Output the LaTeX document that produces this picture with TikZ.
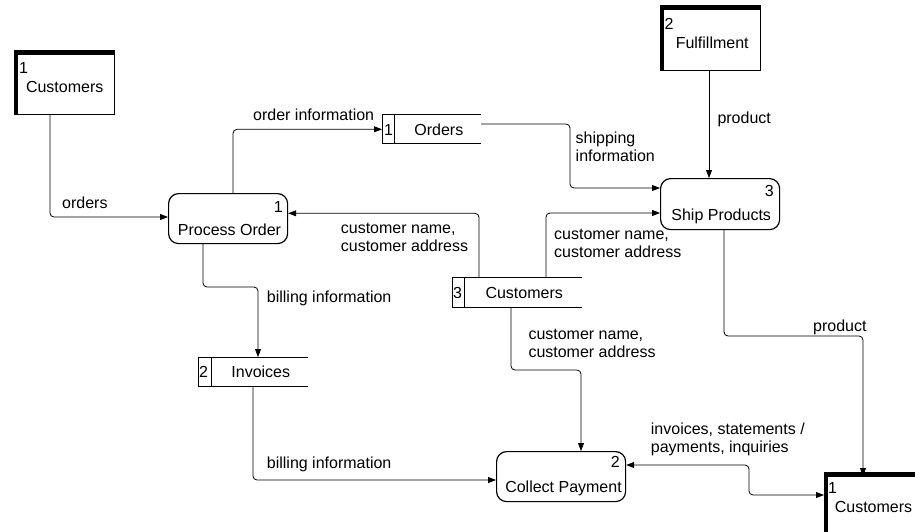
\documentclass[tikz,border=0pt]{standalone}
\usepackage{fontspec}
\setmainfont{Liberation Sans}
\usetikzlibrary{arrows.meta}
\begin{document}
\begin{tikzpicture}[x=1pt,y=-1pt,
  every node/.style={font=\fontsize{16}{18}\selectfont, inner sep=0pt},
  entity/.style={draw, line width=1pt, rectangle, anchor=north west},
  proc/.style={draw, line width=1.2pt, rounded corners=10pt, anchor=north west},
  store/.style={line width=1pt},
  flow/.style={line width=0.8pt, rounded corners=4pt, -{Triangle[length=8pt,width=6pt]}},
  lbl/.style={anchor=base west, align=left},
  num/.style={anchor=base west}
]
\useasboundingbox (0,0) rectangle (915,531);

% ---------- external entities ----------
\node[entity, minimum width=100pt, minimum height=60pt] (c1) at (14,54) {};
\fill (c1.north west) rectangle ([xshift=4pt]c1.south west);
\fill (c1.north west) rectangle ([yshift=4pt]c1.north east);
\node[num] (c1n) at (19,73.3) {1};
\node[anchor=base] (c1t) at (64.7,92.3) {Customers};

\node[entity, minimum width=100pt, minimum height=61pt] (ff) at (660,9) {};
\fill (ff.north west) rectangle ([xshift=4pt]ff.south west);
\fill (ff.north west) rectangle ([yshift=4pt]ff.north east);
\node[num] (ffn) at (664.5,29.3) {2};
\node[anchor=base] (fft) at (712.2,48.3) {Fulfillment};

\node[entity, minimum width=110pt, minimum height=70pt] (c2) at (824,476) {};
\fill (c2.north west) rectangle ([xshift=4pt]c2.south west);
\fill (c2.north west) rectangle ([yshift=4pt]c2.north east);
\node[num] (c2n) at (828,493.3) {1};
\node[anchor=base] (c2t) at (873.5,512.3) {Customers};

% ---------- processes ----------
\node[proc, minimum width=119pt, minimum height=50pt] (po) at (168,193) {};
\node[anchor=base east] (pon) at (283,212) {1};
\node[anchor=base] (pot) at (229.5,235) {Process Order};

\node[proc, minimum width=119pt, minimum height=51pt] (sp) at (660,178) {};
\node[anchor=base east] (spn) at (774,196.7) {3};
\node[anchor=base] (spt) at (721.2,220) {Ship Products};

\node[proc, minimum width=129pt, minimum height=50pt] (cp) at (496,451) {};
\node[anchor=base east] (cpn) at (620,467.7) {2};
\node[anchor=base] (cpt) at (563.5,492) {Collect Payment};

% ---------- data stores ----------
\draw[store] (481,114) -- (382,114) -- (382,143) -- (481,143);
\draw[store] (394,114) -- (394,143);
\node[num] (osn) at (384,135) {1};
\node[anchor=base] (ost) at (438.8,135) {Orders};
\coordinate (osL) at (382,129.3);
\coordinate (osR) at (481,124);

\draw[store] (582,277) -- (452,277) -- (452,307) -- (582,307);
\draw[store] (464,277) -- (464,307);
\node[num] (csn) at (453,298.3) {3};
\node[anchor=base] (cst) at (524.2,298.3) {Customers};

\draw[store] (308,357) -- (198,357) -- (198,386) -- (308,386);
\draw[store] (211,357) -- (211,386);
\node[num] (ivn) at (199,377.3) {2};
\node[anchor=base] (ivt) at (260.8,377.3) {Invoices};

% store anchor coordinates
\coordinate (csTopA) at (479,277);
\coordinate (csTopB) at (546,277);
\coordinate (csBot) at (511,307);
\coordinate (ivTop) at (258,357);
\coordinate (ivBot) at (253,386);

% ---------- flows ----------
\draw[flow] (c1.south -| 50,0) |- (po.west |- 0,217);
\node[lbl] (l1) at (62,208.3) {orders};

\draw[flow] (po.north -| 233,0) |- (osL);
\node[lbl] (l2) at (253,120.7) {order information};

\draw[flow] (osR) -| (570,160) |- (sp.west |- 0,188);
\node[lbl] (l3) at (575.5,161) {shipping\\information};

\draw[flow] (csTopB) |- (sp.west |- 0,213);
\node[lbl] (l4) at (554,257.3) {customer name,\\customer address};

\draw[flow] (csTopA) |- (po.east |- 0,213.3);
\node[lbl] (l5) at (340.7,251.7) {customer name,\\customer address};

\draw[flow] (po.south -| 203,0) -- (203,287) -| (ivTop);
\node[lbl] (l6) at (266.7,302.7) {billing information};

\draw[flow] (ivBot) |- (cp.west |- 0,480);
\node[lbl] (l7) at (266.7,468.3) {billing information};

\draw[flow] (csBot) -- (511,370) -| (cp.north -| 581,0);
\node[lbl] (l8) at (528.3,357.3) {customer name,\\customer address};

\draw[flow] (sp.south -| 724,0) -- (724,336) -| (c2.north -| 863,0);
\node[lbl] (l9) at (813,331.7) {product};

\draw[flow] (ff.south -| 709,0) -- (sp.north -| 709,0);
\node[lbl] (l10) at (717.3,123.3) {product};

\draw[line width=0.8pt, rounded corners=4pt, {Triangle[length=8pt,width=6pt]}-{Triangle[length=8pt,width=6pt]}]
  (cp.east |- 0,465) -| (749,480) |- (c2.west |- 0,495);
\node[lbl] (l11) at (650.7,452.7) {invoices, statements /\\payments, inquiries};
\end{tikzpicture}
\end{document}
